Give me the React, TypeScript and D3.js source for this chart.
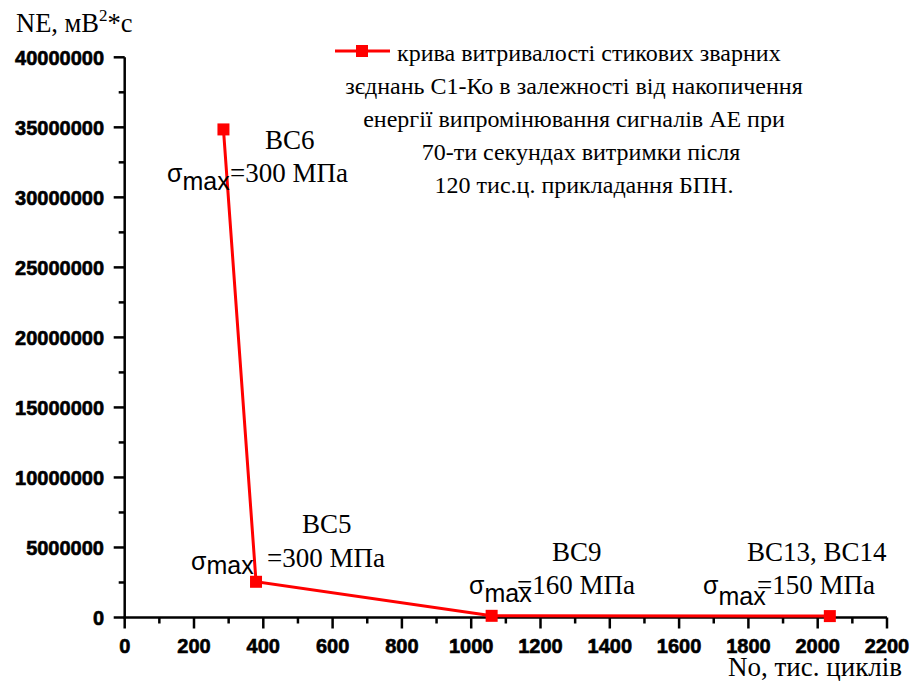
import React from "react";
import * as d3 from "d3";

const cycles = [285, 379, 1059, 2035];
const energy = [34850000, 2550000, 120000, 100000];
const xTicks = [0, 200, 400, 600, 800, 1000, 1200, 1400, 1600, 1800, 2000, 2200];
const yTicks = [0, 5000000, 10000000, 15000000, 20000000, 25000000, 30000000, 35000000, 40000000];
const legendLines = [
  "крива витривалості стикових зварних",
  "зєднань С1-Ко в залежності від накопичення",
  "енергії випромінювання сигналів АЕ при",
  "70-ти секундах витримки після",
  "120 тис.ц. прикладання БПН.",
];
const sampleNames = ["BC6", "BC5", "BC9", "BC13, BC14"];
const stressTexts = ["=300 МПа", "=300 МПа", "=160 МПа", "=150 МПа"];

const W = 915;
const H = 681;

export default function App() {
  const x = d3.scaleLinear().domain([0, 2200]).range([124.7, 887]);
  const y = d3.scaleLinear().domain([0, 40000000]).range([617.5, 57.3]);
  const xMinor = d3.range(100, 2200, 200);
  const yMinor = d3.range(2500000, 40000000, 5000000);
  const line = d3
    .line<number>()
    .x((_, i) => x(cycles[i]))
    .y((d) => y(d));
  const serif = "'Liberation Serif', 'Times New Roman', serif";
  const sans = "'Liberation Sans', Arial, sans-serif";

  // annotation placements (label layout)
  const ann = [
    { nameX: 265, nameY: 149, sigX: 167, sigY: 182, maxDy: 8, eqX: 230, eqY: 182 },
    { nameX: 302, nameY: 533, sigX: 191, sigY: 570, maxDy: 4, eqX: 267, eqY: 567 },
    { nameX: 552, nameY: 561, sigX: 469, sigY: 594, maxDy: 8, eqX: 517, eqY: 594 },
    { nameX: 747, nameY: 561, sigX: 703, sigY: 594, maxDy: 11, eqX: 757, eqY: 594 },
  ];

  return (
    <svg
      width={W}
      height={H}
      style={{ position: "absolute", left: 0, top: 0, background: "#fff" }}
    >
      <rect width={W} height={H} fill="#fff" />
      {/* axes */}
      <line x1={x(0)} x2={x(0)} y1={y(40000000)} y2={y(0) + 1} stroke="#000" strokeWidth={2.5} />
      <line x1={x(0) - 1} x2={x(2200)} y1={y(0)} y2={y(0)} stroke="#000" strokeWidth={2.5} />
      {yTicks.map((t) => (
        <g key={"yt" + t}>
          <line x1={x(0) - 11} x2={x(0)} y1={y(t)} y2={y(t)} stroke="#000" strokeWidth={2.5} />
          <text
            x={104}
            y={y(t)}
            dy="0.36em"
            textAnchor="end"
            fontFamily={sans}
            fontWeight="bold"
            fontSize={20}
            stroke="#000"
            strokeWidth={0.6}
          >
            {t}
          </text>
        </g>
      ))}
      {yMinor.map((t) => (
        <line key={"ym" + t} x1={x(0) - 6} x2={x(0)} y1={y(t)} y2={y(t)} stroke="#000" strokeWidth={2.5} />
      ))}
      {xTicks.map((t) => (
        <g key={"xt" + t}>
          <line x1={x(t)} x2={x(t)} y1={y(0)} y2={y(0) + 11} stroke="#000" strokeWidth={2.5} />
          <text
            x={x(t)}
            y={653}
            textAnchor="middle"
            fontFamily={sans}
            fontWeight="bold"
            fontSize={20}
            stroke="#000"
            strokeWidth={0.6}
          >
            {t}
          </text>
        </g>
      ))}
      {xMinor.map((t) => (
        <line key={"xm" + t} x1={x(t)} x2={x(t)} y1={y(0)} y2={y(0) + 6} stroke="#000" strokeWidth={2.5} />
      ))}

      {/* axis titles */}
      <text x={16} y={32} fontFamily={serif} fontSize={26.5}>
        NE, мВ<tspan dy={-11} fontSize={17}>2</tspan>
        <tspan dy={11}>*с</tspan>
      </text>
      <text x={728} y={676} fontFamily={serif} fontSize={27}>
        No, тис. циклів
      </text>

      {/* data */}
      <path d={line(energy) || ""} fill="none" stroke="#ff0000" strokeWidth={3} />
      {energy.map((v, i) => (
        <rect
          key={"m" + i}
          x={x(cycles[i]) - 6}
          y={y(v) - 6}
          width={12}
          height={12}
          fill="#ff0000"
        />
      ))}

      {/* annotations */}
      {ann.map((a, i) => (
        <g key={"a" + i}>
          <text x={a.nameX} y={a.nameY} fontFamily={serif} fontSize={27}>
            {sampleNames[i]}
          </text>
          <text x={a.sigX} y={a.sigY} fontFamily={sans} fontSize={25}>
            σ<tspan dy={a.maxDy}>max</tspan>
          </text>
          <text x={a.eqX} y={a.eqY} fontFamily={serif} fontSize={27}>
            {stressTexts[i]}
          </text>
        </g>
      ))}

      {/* legend */}
      <line x1={335} x2={390} y1={51} y2={51} stroke="#ff0000" strokeWidth={3} />
      <rect x={356} y={45} width={12} height={12} fill="#ff0000" />
      <text x={397} y={61} fontFamily={serif} fontSize={24}>
        {legendLines[0]}
      </text>
      {legendLines.slice(1).map((s, i) => (
        <text
          key={"l" + i}
          x={[574, 574, 581, 584][i]}
          y={94 + i * 33}
          textAnchor="middle"
          fontFamily={serif}
          fontSize={24}
        >
          {s}
        </text>
      ))}
    </svg>
  );
}
